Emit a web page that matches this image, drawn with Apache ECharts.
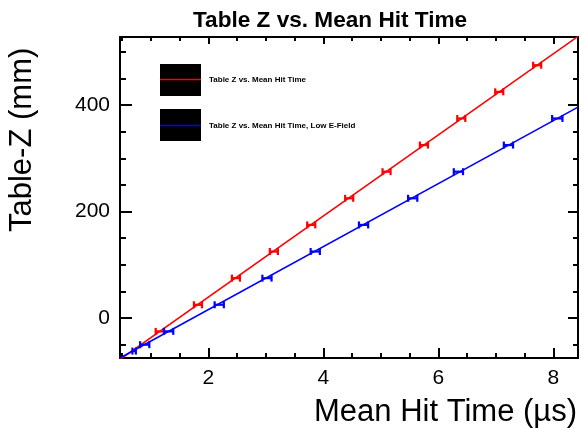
<!DOCTYPE html>
<html>
<head>
<meta charset="utf-8">
<script src="https://cdn.jsdelivr.net/npm/echarts@6/dist/echarts.min.js"></script>
<style>
html, body { margin: 0; padding: 0; background: #ffffff; }
#chart { width: 581px; height: 428px; }
</style>
</head>
<body>
<div id="chart"></div>
<script>
// Table-Z positions (mm) and mean hit times (µs), nominal field
const zNominal = [-25, 25, 75, 125, 175, 225, 275, 325, 375, 425, 475];
const timeNominal = [1.155, 1.82, 2.48, 3.14, 3.79, 4.45, 5.10, 5.75, 6.40, 7.06, 7.72];
const timeErrNominal = [0.07, 0.07, 0.07, 0.07, 0.07, 0.07, 0.07, 0.07, 0.07, 0.07, 0.07];

// Table-Z positions (mm) and mean hit times (µs), low E-field
const zLowField = [-62, -50, -25, 25, 75, 125, 175, 225, 275, 325, 375];
const timeLowField = [0.71, 0.894, 1.31, 2.19, 3.02, 3.86, 4.70, 5.555, 6.35, 7.22, 8.07];
const timeErrLowField = [0.03, 0.08, 0.08, 0.08, 0.08, 0.08, 0.08, 0.08, 0.08, 0.08, 0.09];

// Straight-line fits: [slope (mm/µs), intercept (mm)]
const fitNominal = [76.16, -113.0];
const fitLowField = [59.17, -102.5];

// Axis ranges and tick positions
const xRange = [0.464, 8.43];
const yRange = [-75, 528];
const xTicksMajor = [2, 4, 6, 8];
const xTicksMinor = [0.5, 1, 1.5, 2, 2.5, 3, 3.5, 4, 4.5, 5, 5.5, 6, 6.5, 7, 7.5, 8];
const yTicksMajor = [0, 200, 400];
const yTicksMinor = [-50, 0, 50, 100, 150, 200, 250, 300, 350, 400, 450, 500];

const titleText = 'Table Z vs. Mean Hit Time';
const legendNames = ['Table Z vs. Mean Hit Time', 'Table Z vs. Mean Hit Time, Low E-Field'];
const xTitle = 'Mean Hit Time (µs)';
const yTitle = 'Table-Z (mm)';

const FONT = '"Liberation Sans", Arial, Helvetica, sans-serif';
const RED = '#ff0000';
const BLUE = '#0000ff';

function points(times, zs, errs) {
  return times.map((t, i) => [t, zs[i], errs[i]]);
}

function fitLine(fit) {
  return xRange.map(x => [x, fit[0] * x + fit[1]]);
}

// Horizontal error bar with end caps
function errorBar(color) {
  return function (params, api) {
    const x = api.value(0), y = api.value(1), e = api.value(2);
    const a = api.coord([x - e, y]);
    const b = api.coord([x + e, y]);
    const h = 3.5;
    const style = { stroke: color, lineWidth: 2.2 };
    return {
      type: 'group',
      children: [
        { type: 'line', shape: { x1: a[0], y1: a[1], x2: b[0], y2: b[1] }, style },
        { type: 'line', shape: { x1: a[0], y1: a[1] - h, x2: a[0], y2: a[1] + h }, style },
        { type: 'line', shape: { x1: b[0], y1: b[1] - h, x2: b[0], y2: b[1] + h }, style }
      ]
    };
  };
}

function tickAxis(base, position, ticks, len, showLine, labels) {
  return {
    type: 'value',
    position: position,
    min: base === 'x' ? xRange[0] : yRange[0],
    max: base === 'x' ? xRange[1] : yRange[1],
    axisLine: { show: showLine, onZero: false, lineStyle: { color: '#000', width: 2 } },
    axisTick: { show: true, inside: true, length: len, customValues: ticks, lineStyle: { color: '#000', width: 2 } },
    axisLabel: labels ? labels : { show: false },
    splitLine: { show: false },
    minorTick: { show: false }
  };
}

const chart = echarts.init(document.getElementById('chart'), null, { renderer: 'canvas' });

const option = {
  animation: false,
  backgroundColor: '#ffffff',
  textStyle: { fontFamily: FONT },
  title: {
    text: titleText,
    left: 188,
    top: 4,
    textStyle: { fontFamily: FONT, fontSize: 22.6, fontWeight: 'bold', color: '#000' }
  },
  grid: {
    left: 120, right: 3, top: 37, bottom: 70,
    containLabel: false, outerBoundsMode: 'none'
  },
  xAxis: [
    tickAxis('x', 'bottom', xTicksMajor, 10, true, {
      show: true, customValues: xTicksMajor, margin: 10,
      fontFamily: FONT, fontSize: 21, color: '#000'
    }),
    tickAxis('x', 'bottom', xTicksMinor, 5, false),
    tickAxis('x', 'top', xTicksMajor, 7, true),
    tickAxis('x', 'top', xTicksMinor, 4, false)
  ],
  yAxis: [
    tickAxis('y', 'left', yTicksMajor, 12, true, {
      show: true, customValues: yTicksMajor, margin: 10,
      fontFamily: FONT, fontSize: 21, color: '#000'
    }),
    tickAxis('y', 'left', yTicksMinor, 6, false),
    tickAxis('y', 'right', yTicksMajor, 10, true),
    tickAxis('y', 'right', yTicksMinor, 5, false)
  ],
  series: [
    {
      type: 'line', name: legendNames[0] + ' fit', data: fitLine(fitNominal),
      showSymbol: false, clip: true, silent: true,
      lineStyle: { color: RED, width: 1.6 }, z: 2
    },
    {
      type: 'line', name: legendNames[1] + ' fit', data: fitLine(fitLowField),
      showSymbol: false, clip: true, silent: true,
      lineStyle: { color: BLUE, width: 1.6 }, z: 2
    },
    {
      type: 'custom', name: legendNames[0],
      data: points(timeNominal, zNominal, timeErrNominal),
      encode: { x: 0, y: 1 }, renderItem: errorBar(RED), clip: true, z: 3
    },
    {
      type: 'custom', name: legendNames[1],
      data: points(timeLowField, zLowField, timeErrLowField),
      encode: { x: 0, y: 1 }, renderItem: errorBar(BLUE), clip: true, z: 3
    }
  ],
  graphic: [
    // legend boxes
    { type: 'rect', left: 160, top: 64, shape: { width: 41, height: 32 }, style: { fill: '#000' }, z: 10 },
    { type: 'line', shape: { x1: 160, y1: 79.5, x2: 201, y2: 79.5 }, style: { stroke: RED, lineWidth: 1.6 }, z: 11 },
    { type: 'text', x: 209, y: 80, style: { text: legendNames[0], font: 'bold 8px ' + FONT, fill: '#000', verticalAlign: 'middle' }, z: 11 },
    { type: 'rect', left: 160, top: 109, shape: { width: 41, height: 32 }, style: { fill: '#000' }, z: 10 },
    { type: 'line', shape: { x1: 160, y1: 125.5, x2: 201, y2: 125.5 }, style: { stroke: BLUE, lineWidth: 1.6 }, z: 11 },
    { type: 'text', x: 209, y: 126, style: { text: legendNames[1], font: 'bold 8px ' + FONT, fill: '#000', verticalAlign: 'middle' }, z: 11 },
    // axis titles
    { type: 'text', x: 577, y: 412, style: { text: xTitle, font: '31px ' + FONT, fill: '#000', align: 'right', verticalAlign: 'middle' }, z: 11 },
    { type: 'text', x: 22, y: 232, rotation: Math.PI / 2, style: { text: yTitle, font: '31px ' + FONT, fill: '#000', align: 'left', verticalAlign: 'middle' }, z: 11 }
  ]
};

chart.setOption(option);
</script>
</body>
</html>
